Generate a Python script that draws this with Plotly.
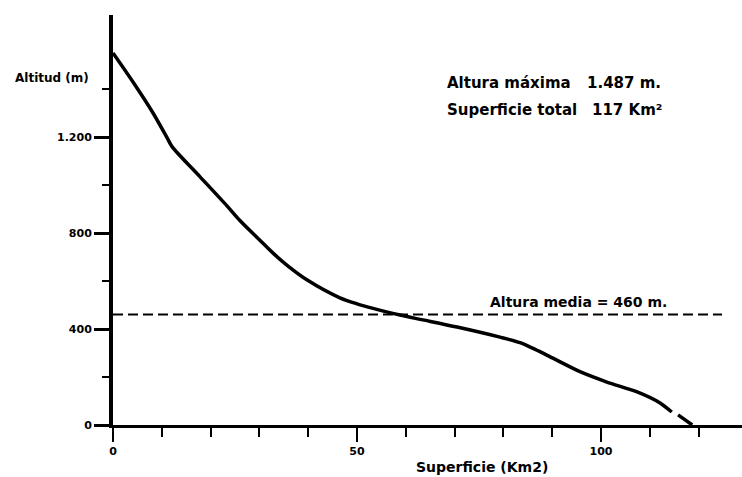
import plotly.graph_objects as go

# Hypsometric curve data
AREA_KM2 = [0, 4.1, 8.2, 11.1, 12.1, 17.8, 23.4, 26.0, 30.0, 32.8, 36.0, 39.8, 46.5, 50.0,
            53.3, 58.8, 63.5, 70.5, 79.3, 83.4, 86.5, 89.5, 95.7, 101.2, 107.4, 112.1, 114.5]
ALTITUDE_M = [1550, 1429, 1300, 1196, 1160, 1035, 912, 852, 772, 716, 660, 604, 530, 505,
              486, 458, 438, 408, 366, 343, 315, 285, 222, 179, 138, 92, 54]

TAIL_AREA = [115.8, 118.7]
TAIL_ALT = [42, 0]

MEAN_ALT = 460
MEAN_LINE_X = [0, 124.8]

Y_TICKS = [0, 400, 800, 1200]
Y_TICKTEXT = ["0", "400", "800", "1.200"]
Y_MINOR = [200, 600, 1000, 1400]
X_TICKS = [0, 50, 100]
X_TICKTEXT = ["0", "50", "100"]
X_MINOR = [10, 20, 30, 40, 60, 70, 80, 90, 110, 120]

FONT = "DejaVu Sans"

fig = go.Figure()
fig.add_trace(go.Scatter(x=MEAN_LINE_X, y=[MEAN_ALT, MEAN_ALT], mode="lines",
                         line=dict(color="black", width=2, dash="10px,5px"),
                         hoverinfo="skip"))
fig.add_trace(go.Scatter(x=AREA_KM2, y=ALTITUDE_M, mode="lines",
                         line=dict(color="black", width=3.5, shape="spline", smoothing=0.8)))
fig.add_trace(go.Scatter(x=TAIL_AREA, y=TAIL_ALT, mode="lines",
                         line=dict(color="black", width=3.5)))

L, T, W, H = 113, 15, 629, 410


def px(xp):
    return (xp - L) / W


def py(yp):
    return (T + H - yp) / H


annots = [
    dict(text="Altitud (m)", x=px(52), y=py(78), xanchor="center", yanchor="middle",
         font=dict(size=12, weight="bold")),
    dict(text="Altura máxima", x=px(445), y=py(83), xanchor="left", yanchor="middle",
         font=dict(size=15, weight="bold")),
    dict(text="1.487 m.", x=px(585), y=py(83), xanchor="left", yanchor="middle",
         font=dict(size=15, weight="bold")),
    dict(text="Superficie total", x=px(445), y=py(110), xanchor="left", yanchor="middle",
         font=dict(size=15, weight="bold")),
    dict(text="117 Km²", x=px(590), y=py(110), xanchor="left", yanchor="middle",
         font=dict(size=15, weight="bold")),
    dict(text="Altura media = 460 m.", x=px(488), y=py(302), xanchor="left", yanchor="middle",
         font=dict(size=14, weight="bold")),
    dict(text="Superficie (Km2)", x=px(482), y=py(467), xanchor="center", yanchor="middle",
         font=dict(size=14, weight="bold")),
]
for a in annots:
    a.update(xref="paper", yref="paper", showarrow=False)
    a["font"].update(family=FONT, color="black")

fig.update_layout(
    width=742, height=477,
    margin=dict(l=L, r=0, t=T, b=477 - T - H, pad=0),
    paper_bgcolor="white", plot_bgcolor="white",
    showlegend=False,
    annotations=annots,
    xaxis=dict(range=[0, W / 4.88], showgrid=False, zeroline=False,
               showline=True, linecolor="black", linewidth=2.5,
               tickmode="array", tickvals=X_TICKS, ticktext=X_TICKTEXT,
               ticks="outside", ticklen=14, tickwidth=2, tickcolor="black",
               tickfont=dict(family=FONT, size=11, color="black", weight="bold"),
               minor=dict(tickmode="array", tickvals=X_MINOR, ticks="outside",
                          ticklen=9, tickwidth=2, tickcolor="black")),
    yaxis=dict(range=[0, H / 0.24], showgrid=False, zeroline=False,
               showline=True, linecolor="black", linewidth=4,
               tickmode="array", tickvals=Y_TICKS, ticktext=Y_TICKTEXT,
               ticks="outside", ticklen=15, tickwidth=2.5, tickcolor="black",
               tickfont=dict(family=FONT, size=11, color="black", weight="bold"),
               minor=dict(tickmode="array", tickvals=Y_MINOR, ticks="outside",
                          ticklen=7, tickwidth=2, tickcolor="black")),
)

fig.write_html("out.html")
